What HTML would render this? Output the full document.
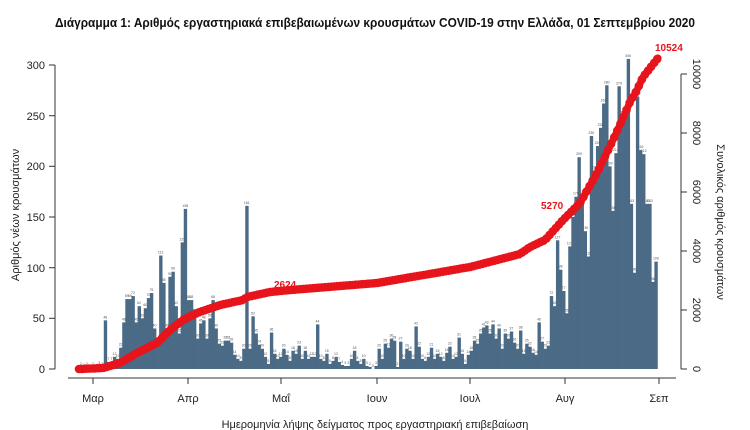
<!DOCTYPE html>
<html><head><meta charset="utf-8">
<style>
html,body{margin:0;padding:0;background:#fff;}
svg{display:block;font-family:"Liberation Sans",sans-serif;}
</style></head>
<body>
<svg id="c" width="750" height="430" xmlns="http://www.w3.org/2000/svg">
<text x="375" y="27" text-anchor="middle" font-size="13" font-weight="bold" fill="#111" textLength="640" lengthAdjust="spacingAndGlyphs">Διάγραμμα 1: Αριθμός εργαστηριακά επιβεβαιωμένων κρουσμάτων COVID-19 στην Ελλάδα, 01 Σεπτεμβρίου 2020</text>
<g id="bars" fill="#4a6a86"></g>
<g id="lbl" font-size="3.5" fill="#555" text-anchor="middle"></g>
<text x="541" y="209" font-size="10" font-weight="bold" fill="#e8141c">5270</text>
<g id="curve"></g>
<g stroke="#333" stroke-width="1">
<line x1="55" y1="65" x2="55" y2="369"/>
<line x1="49" y1="369" x2="55" y2="369"/><line x1="49" y1="318.3" x2="55" y2="318.3"/>
<line x1="49" y1="267.7" x2="55" y2="267.7"/><line x1="49" y1="217" x2="55" y2="217"/>
<line x1="49" y1="166.3" x2="55" y2="166.3"/><line x1="49" y1="115.7" x2="55" y2="115.7"/>
<line x1="49" y1="65" x2="55" y2="65"/>
<line x1="681" y1="74" x2="681" y2="369"/>
<line x1="681" y1="369" x2="687" y2="369"/><line x1="681" y1="310" x2="687" y2="310"/>
<line x1="681" y1="251" x2="687" y2="251"/><line x1="681" y1="192" x2="687" y2="192"/>
<line x1="681" y1="133" x2="687" y2="133"/><line x1="681" y1="74" x2="687" y2="74"/>
<line x1="68" y1="378" x2="676" y2="378"/>
<line x1="93" y1="378" x2="93" y2="384"/><line x1="188" y1="378" x2="188" y2="384"/>
<line x1="281" y1="378" x2="281" y2="384"/><line x1="377" y1="378" x2="377" y2="384"/>
<line x1="470" y1="378" x2="470" y2="384"/><line x1="565" y1="378" x2="565" y2="384"/>
<line x1="659" y1="378" x2="659" y2="384"/>
</g>
<g font-size="11" fill="#222" text-anchor="end">
<text x="45" y="373">0</text><text x="45" y="322">50</text><text x="45" y="272">100</text>
<text x="45" y="221">150</text><text x="45" y="170">200</text><text x="45" y="120">250</text><text x="45" y="69">300</text>
</g>
<g font-size="11" fill="#222" text-anchor="middle">
<text transform="translate(693,369) rotate(90)">0</text>
<text transform="translate(693,310) rotate(90)">2000</text>
<text transform="translate(693,251) rotate(90)">4000</text>
<text transform="translate(693,192) rotate(90)">6000</text>
<text transform="translate(693,133) rotate(90)">8000</text>
<text transform="translate(693,74) rotate(90)">10000</text>
<text transform="translate(717,222) rotate(90)">Συνολικός αριθμός κρουσμάτων</text>
<text transform="translate(19,215) rotate(-90)">Αριθμός νέων κρουσμάτων</text>
<text x="93" y="402">Μαρ</text><text x="188" y="402">Απρ</text><text x="281" y="402">Μαΐ</text>
<text x="377" y="402">Ιουν</text><text x="470" y="402">Ιουλ</text><text x="565" y="402">Αυγ</text>
<text x="659" y="402">Σεπ</text>
<text x="375" y="428">Ημερομηνία λήψης δείγματος προς εργαστηριακή επιβεβαίωση</text>
</g>
<g font-size="10" font-weight="bold" fill="#e8141c">
<text x="274" y="288">2624</text>
<text x="655" y="51">10524</text>
</g>
</svg>
<script>
var d=[2,1,2,0,
2,0,3,2,48,7,7,12,10,21,46,69,69,72,46,62,50,60,70,75,40,25,112,85,40,91,96,62,35,125,158,
68,68,55,30,45,48,30,50,68,40,25,23,28,28,26,14,10,8,20,161,20,52,35,24,20,12,5,36,15,10,
12,20,14,8,18,15,23,10,18,10,12,12,44,10,8,15,5,8,12,7,4,3,3,10,18,8,5,10,3,2,0,
3,20,10,25,21,30,28,2,27,10,20,18,10,42,22,10,8,12,21,10,15,12,8,16,22,10,12,31,15,5,
14,18,28,25,35,41,43,35,44,30,40,20,35,30,37,26,20,38,15,25,22,16,14,46,27,20,23,72,62,127,98,
77,55,121,150,170,209,172,136,111,230,196,220,238,262,280,200,156,213,279,250,250,306,163,95,269,216,212,163,163,86,106];
var ns="http://www.w3.org/2000/svg";
var bars=document.getElementById('bars'),lbl=document.getElementById('lbl'),cv=document.getElementById('curve');
var x0=93-4*3.076,w=3.076;
for(var i=0;i<d.length;i++){
 var x=x0+i*w-w/2,h=d[i]*1.0133;
 var r=document.createElementNS(ns,'rect');
 r.setAttribute('x',x.toFixed(2));r.setAttribute('y',(369-h).toFixed(2));
 r.setAttribute('width',(w+0.3).toFixed(2));r.setAttribute('height',h.toFixed(2));
 bars.appendChild(r);
 var t=document.createElementNS(ns,'text');
 t.setAttribute('x',(x+w/2).toFixed(1));t.setAttribute('y',(369-h-2).toFixed(1));
 t.textContent=d[i];lbl.appendChild(t);
}
var k=[[79,369],[103,368],[120,363],[137,353],[157,343],[170,330],[183,320],[197,313],[220,305],[243,300],[247,297],[270,292],[290,290],[377,283],[470,267],[520,254],[530,247],[545,240],[563,220],[580,203],[597,173],[613,140],[623,118],[630,102],[637,90],[643,77],[658,58]];
function yAt(x){for(var j=0;j<k.length-1;j++){if(x<=k[j+1][0]){var a=k[j],b=k[j+1];return a[1]+(b[1]-a[1])*(x-a[0])/(b[0]-a[0]);}}return k[k.length-1][1];}
var pts=[];
for(var x=79;x<=658;x+=1){pts.push(x+','+yAt(x).toFixed(1));}
var pl=document.createElementNS(ns,'polyline');
pl.setAttribute('points',pts.join(' '));pl.setAttribute('fill','none');pl.setAttribute('stroke','#e8141c');
pl.setAttribute('stroke-width','7');pl.setAttribute('stroke-linecap','round');pl.setAttribute('stroke-linejoin','round');
cv.appendChild(pl);
for(var x=79;x<=658;x+=3.076){
 var c=document.createElementNS(ns,'circle');
 c.setAttribute('cx',x.toFixed(1));c.setAttribute('cy',yAt(x).toFixed(1));c.setAttribute('r','4.3');c.setAttribute('fill','#e8141c');
 cv.appendChild(c);
}
</script>
</body></html>
